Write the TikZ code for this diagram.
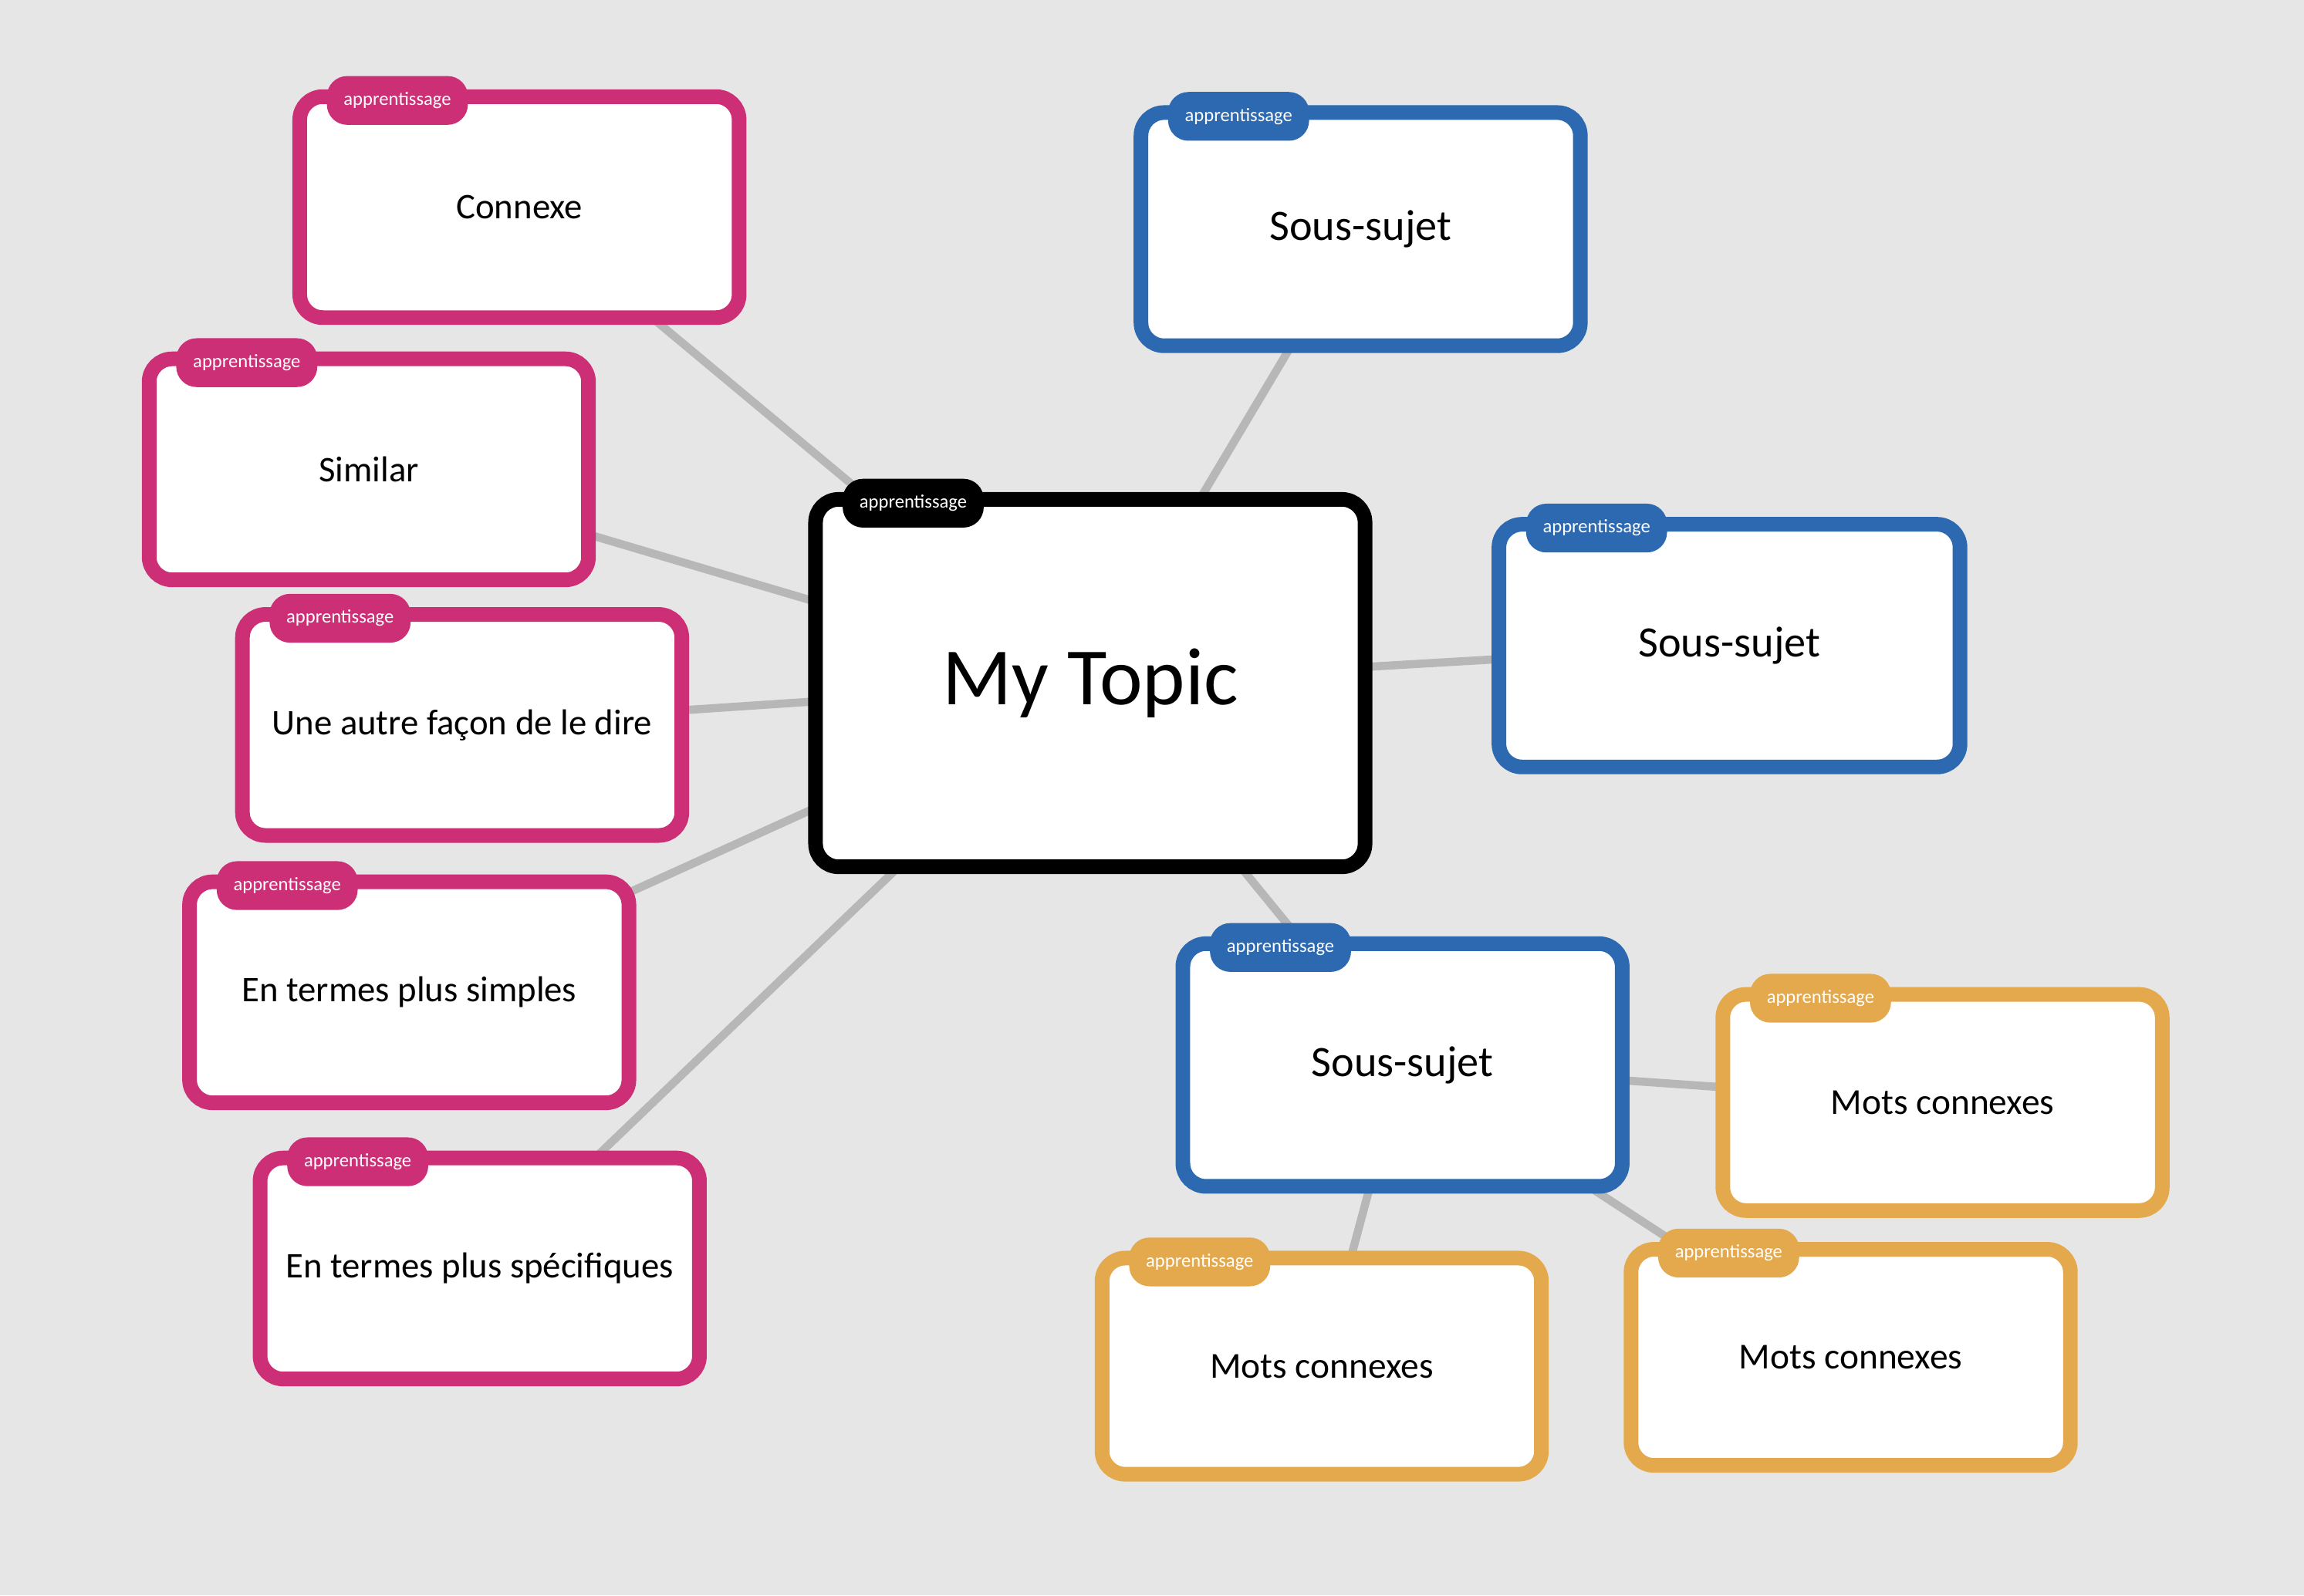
\documentclass[tikz,border=0pt]{standalone}
\usepackage{fontspec}
\setmainfont{Carlito}
\usetikzlibrary{positioning,backgrounds}

\definecolor{hgrund}{HTML}{E6E6E6}
\definecolor{linie}{HTML}{B7B7B7}
\definecolor{rosa}{HTML}{CC2F76}
\definecolor{blau}{HTML}{2C69B1}
\definecolor{gelb}{HTML}{E4A94D}

\tikzset{
  box/.style={rectangle,draw,fill=white,line width=5.4pt,rounded corners=8.5pt,outer sep=0pt,
    minimum width=162pt,minimum height=81.5pt,font=\fontsize{13.3}{16}\selectfont},
  rosabox/.style={box,draw=rosa},
  blaubox/.style={box,draw=blau,minimum height=89.5pt,font=\fontsize{16}{19}\selectfont},
  gelbbox/.style={box,draw=gelb,minimum height=79.7pt,font=\fontsize{13.5}{16}\selectfont},
  topicbox/.style={box,draw=black,minimum width=202.6pt,minimum height=135.5pt,
    font=\fontsize{30}{36}\selectfont},
  tag/.style={rectangle,rounded corners=7.5pt,outer sep=0pt,inner sep=0pt,minimum width=52pt,
    minimum height=18pt,text=white,font=\fontsize{7}{8}\selectfont},
  verbindung/.style={draw=linie,line width=3pt}
}

\begin{document}
\begin{tikzpicture}[x=0.5418pt,y=-0.5418pt]
\useasboundingbox (0,0) rectangle (1568,1086);

% hauptthema
\node[topicbox] (tp) at (742,465) {My Topic};

% linke seite
\node[rosabox] (k1) at (353.5,141) {Connexe};
\node[rosabox] (k2) at (251,319.5) {Similar};
\node[rosabox] (k3) at (314.5,493.5) {Une autre façon de le dire};
\node[rosabox] (k4) at (278.5,675.5) {En termes plus simples};
\node[rosabox] (k5) at (326.5,863.5) {En termes plus spécifiques};

% rechte seite
\node[blaubox,minimum height=86pt] (s1) at (926,156) {Sous-sujet};
\node[blaubox,minimum width=170pt] (s2) at (1177,439.5) {Sous-sujet};
\node[blaubox] (s3) at (954.5,725) {Sous-sujet};

% unter s3
\node[gelbbox] (m1) at (1322,750.5) {Mots connexes};
\node[gelbbox] (m2) at (899.5,930) {Mots connexes};
\node[gelbbox] (m3) at (1259.5,924) {Mots connexes};

% reiter
\node[tag,fill=black,right=10pt of tp.north west,yshift=-1.4pt] (ttp) {apprentissage};
\node[tag,fill=rosa,right=10pt of k1.north west,yshift=-1.4pt] (tk1) {apprentissage};
\node[tag,fill=rosa,right=10pt of k2.north west,yshift=-1.4pt] (tk2) {apprentissage};
\node[tag,fill=rosa,right=10pt of k3.north west,yshift=-1.4pt] (tk3) {apprentissage};
\node[tag,fill=rosa,right=10pt of k4.north west,yshift=-1.4pt] (tk4) {apprentissage};
\node[tag,fill=rosa,right=10pt of k5.north west,yshift=-1.4pt] (tk5) {apprentissage};
\node[tag,fill=blau,right=10pt of s1.north west,yshift=-1.4pt] (ts1) {apprentissage};
\node[tag,fill=blau,right=10pt of s2.north west,yshift=-1.4pt] (ts2) {apprentissage};
\node[tag,fill=blau,right=10pt of s3.north west,yshift=-1.4pt] (ts3) {apprentissage};
\node[tag,fill=gelb,right=10pt of m1.north west,yshift=-1.4pt] (tm1) {apprentissage};
\node[tag,fill=gelb,right=10pt of m2.north west,yshift=-1.4pt] (tm2) {apprentissage};
\node[tag,fill=gelb,right=10pt of m3.north west,yshift=-1.4pt] (tm3) {apprentissage};

% hintergrund und linien
\begin{scope}[on background layer]
\fill[hgrund] (0,0) rectangle (1568,1086);
\draw[verbindung] (tp.center) -- (k1.center);
\draw[verbindung] (tp.center) -- (k2.center);
\draw[verbindung] (tp.center) -- (k3.center);
\draw[verbindung] (tp.center) -- (k4.center);
\draw[verbindung] (tp.center) -- (k5.center);
\draw[verbindung] (tp.center) -- (s1.center);
\draw[verbindung] (tp.center) -- (s2.center);
\draw[verbindung] (tp.center) -- (s3.center);
\draw[verbindung] (s3.center) -- (m1.center);
\draw[verbindung] (s3.center) -- (m2.center);
\draw[verbindung] (s3.center) -- (m3.center);
\end{scope}

\end{tikzpicture}
\end{document}
